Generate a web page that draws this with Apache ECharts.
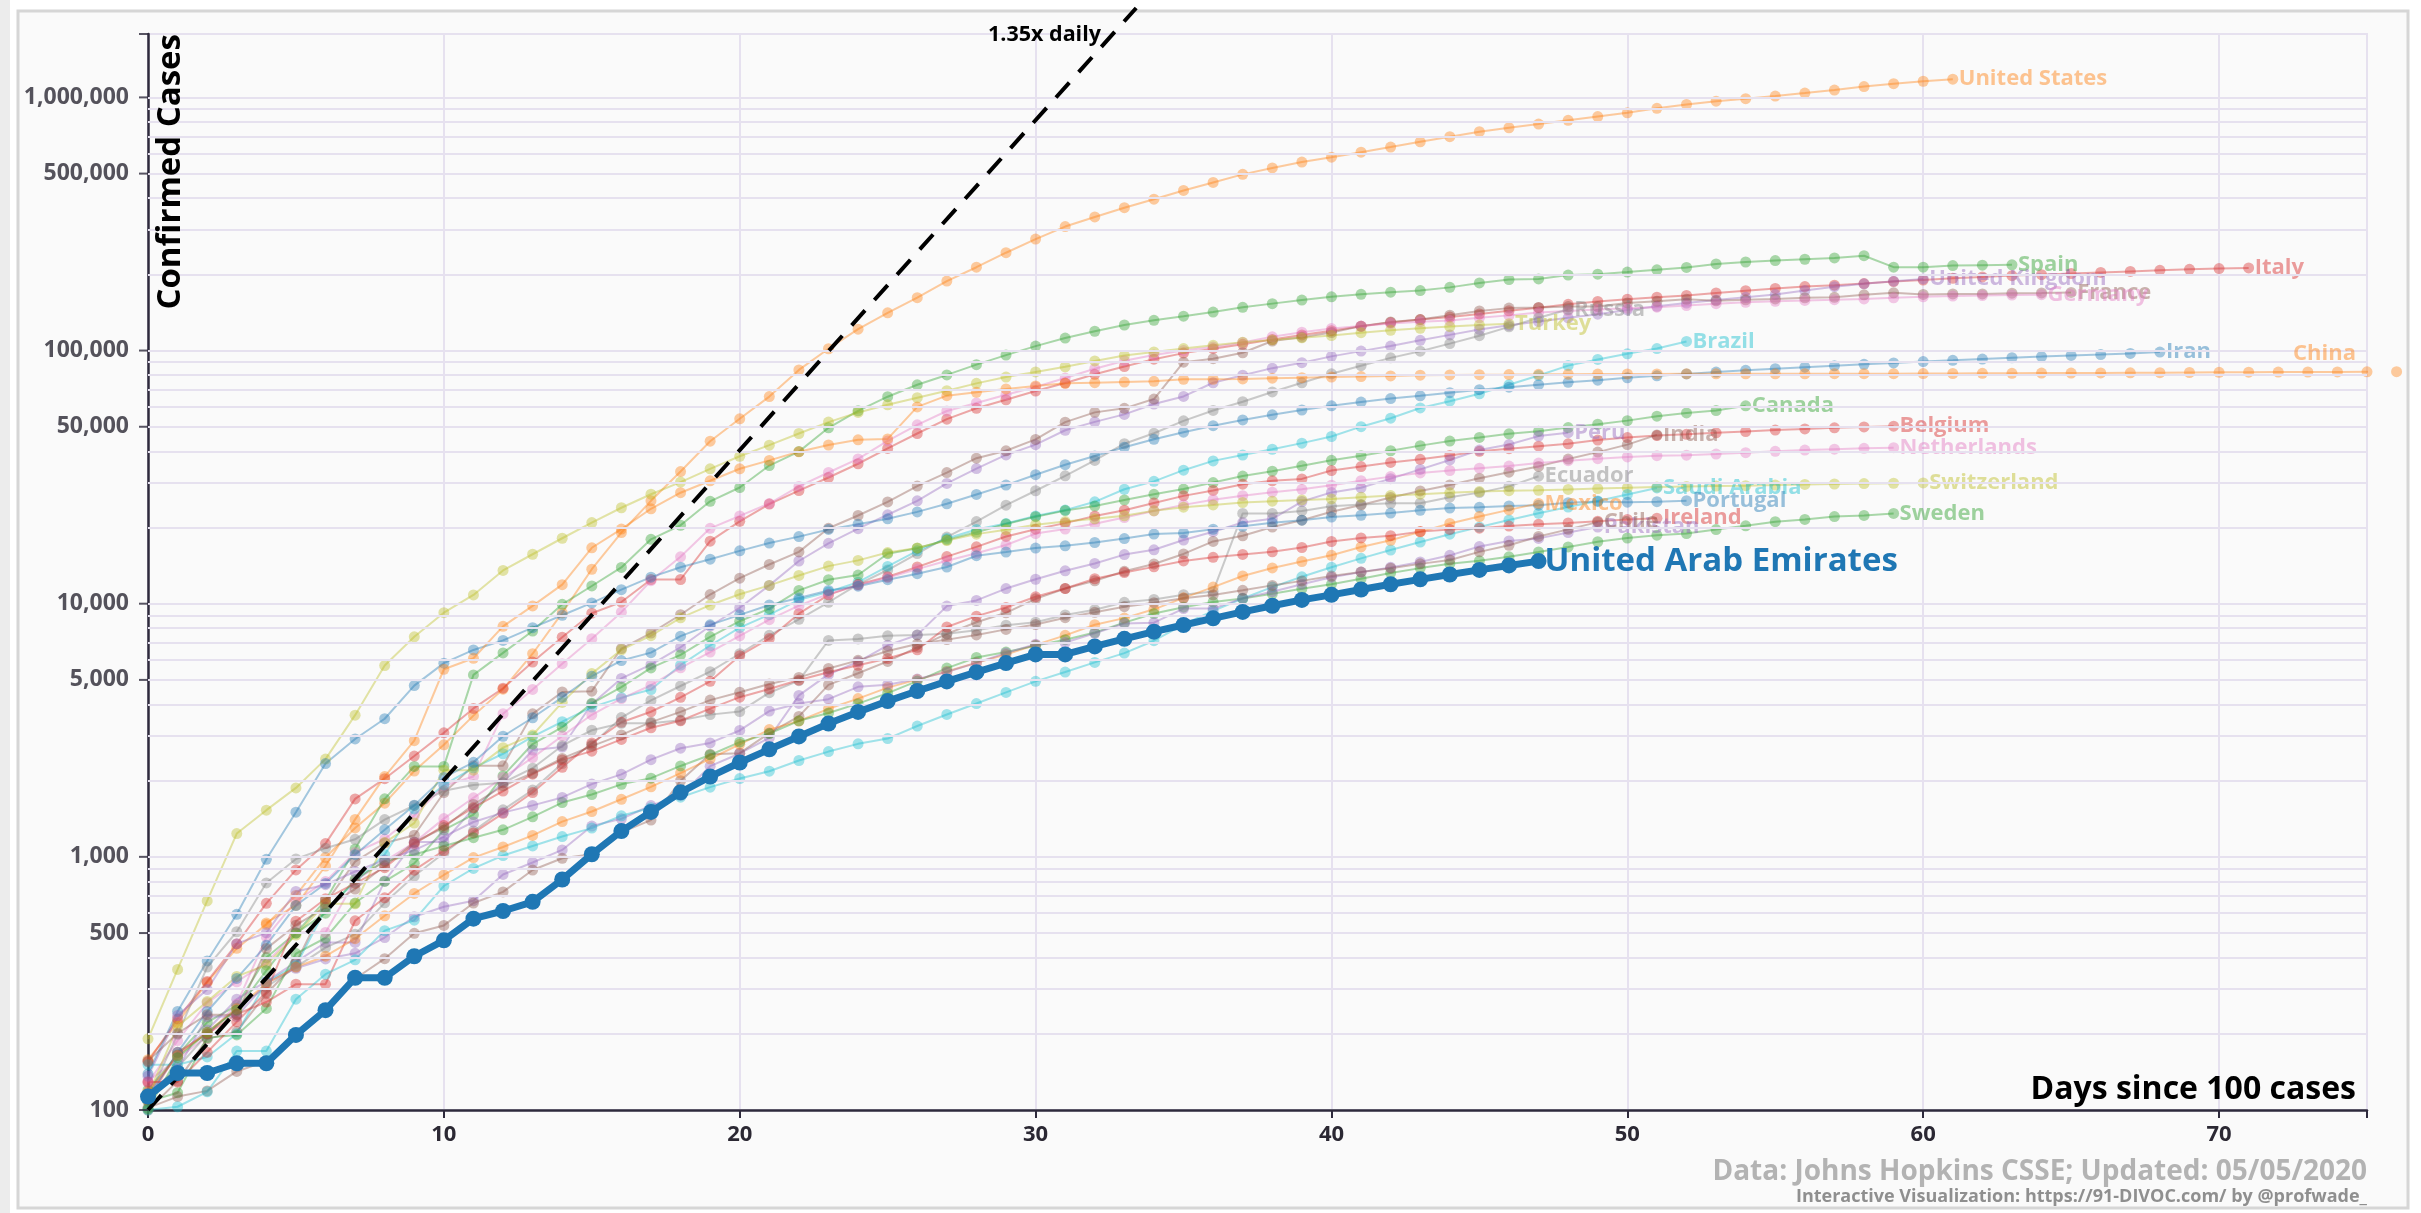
<!DOCTYPE html>
<html><head><meta charset="utf-8">
<script src="https://cdn.jsdelivr.net/npm/echarts@6/dist/echarts.min.js"></script>
<style>html,body{margin:0;padding:0;background:#fff}#c{width:2421px;height:1213px}</style>
</head><body><div id="c"></div>
<script>
// ---------- DATA (confirmed cases, day 0 = first day with >=100 cases) ----------
const US = [158,221,319,435,541,704,994,1301,1630,2183,2770,3613,4596,6344,9197,13680,19101,25493,33276,43847,53740,65778,83836,101657,121478,140886,161807,188172,213372,243453,275586,308850,337072,366667,396223,429052,461437,496535,526396,555313,580619,607670,636350,667592,699706,732197,758809,784326,811865,840351,869170,905358,938154,965785,988197,1012582,1039909,1069424,1103461,1132539,1158040,1180375];
const SPAIN = [120,165,222,259,400,500,673,1073,1695,2277,2277,5232,6391,7798,9942,11748,13910,17963,20410,25374,28768,35136,39885,49515,57786,65719,73235,80110,87956,95923,104118,112065,119199,126168,131646,136675,141942,148220,153222,158273,163027,166831,170099,172541,177644,184948,190839,191726,198674,200210,204178,208389,213024,219764,223759,226629,229422,232128,236899,213435,213435,216582,217466,218011];
const ITALY = [155,229,322,453,655,888,1128,1694,2036,2502,3089,3858,4636,5883,7375,9172,10149,12462,12462,17660,21157,24747,27980,31506,35713,41035,47021,53578,59138,63927,69176,74386,80589,86498,92472,97689,101739,105792,110574,115242,119827,124632,128948,132547,135586,139422,143626,147577,152271,156363,159516,162488,165155,168941,172434,175925,178972,181228,183957,187327,189973,192994,195351,197675,199414,201505,203591,205463,207428,209328,210717,211938];
const UK = [116,164,207,274,322,384,459,459,802,1144,1145,1551,1960,2642,2716,4014,5067,5745,6726,8164,9640,11812,14745,17312,19780,22453,25481,29865,34173,38689,42477,48436,52279,55949,61474,65872,74605,79874,85206,89570,94845,99483,104145,109769,115314,121172,125856,130172,134638,139246,144640,149569,154037,158348,162350,166441,172481,178685,183500,187842,191832];
const FRANCE = [100,130,191,204,288,380,656,957,1134,1217,1792,2289,2289,3672,4480,4513,6650,7652,9043,10871,12612,14282,16018,19856,22304,25233,29155,32964,37575,40174,44550,52128,56989,59105,64338,89953,92839,98010,109069,112950,117749,124869,129654,132591,137875,143303,147091,147969,149232,149149,154188,156480,159297,157125,158636,159952,161644,162220,165963,169053,166543,167299,167305,168518,168925,169583];
const GERMANY = [130,159,196,262,482,670,799,1040,1176,1457,1908,2078,3675,4585,5795,7272,9257,12327,15320,19848,22213,24873,29056,32986,37323,43938,50871,57695,62095,66885,71808,77872,84794,91159,96092,100123,103374,107663,113296,118181,122171,124908,127854,130072,131359,134753,137698,141397,143342,145184,147065,148291,150648,153129,154999,156513,157770,158758,159912,161539,163009,164077,164967,165664,166152];
const RUSSIA = [114,147,199,253,306,367,438,495,658,840,1036,1264,1534,1836,2337,2777,3548,4149,4731,5389,6343,7497,8672,10131,11917,13584,15770,18328,21102,24490,27938,32008,36793,42853,47121,52763,57999,62773,68622,74588,80949,87147,93558,99399,106498,114431,124054,134686,145268];
const TURKEY = [191,359,670,1236,1529,1872,2433,3629,5698,7402,9217,10827,13531,15679,18135,20921,23934,27069,30217,34109,38226,42282,47029,52167,56956,61049,65111,69392,74193,78546,82329,86306,90980,95591,98674,101790,104912,107773,110130,112261,114653,117589,120204,122392,124375,126045,127659];
const BRAZIL = [151,151,162,200,321,372,621,793,1021,1546,1924,2247,2554,2985,3417,3904,4256,4579,5717,6836,8044,9056,10360,11130,12161,14034,16170,18092,19638,20727,22192,23430,25262,28320,30425,33682,36658,38654,40743,43079,45757,50036,54043,59324,63100,67446,73235,79685,87187,92202,97100,101826,108620];
const IRAN = [139,245,388,593,978,1501,2336,2922,3513,4747,5823,6566,7161,8042,9000,10075,11364,12729,13938,14991,16169,17361,18407,19644,20610,21638,23049,24811,27017,29406,32332,35408,38309,41495,44605,47593,50468,53183,55743,58226,60500,62589,64586,66220,68192,70029,71686,73303,74877,76389,77995,79494,80868,82211,83505,84802,85996,87026,88194,89328,90481,91472,92584,93657,94640,95646,96448,97424,98647];
const CHINA = [548,643,920,1406,2075,2877,5509,6087,8141,9802,11891,16630,19716,23707,27440,30587,34110,36814,39829,42354,44386,44759,59895,66358,68413,70513,72434,74211,74619,75077,75550,77001,77022,77241,77754,78166,78600,78928,79356,79932,80136,80261,80386,80537,80690,80770,80823,80860,80887,80921,80932,80945,80977,81003,81033,81058,81102,81156,81250,81305,81435,81498,81591,81661,81782,81897,81999,82122,82198,82279,82361,82432,82511];
const CANADA = [108,117,193,198,252,415,478,657,800,943,1277,1469,2088,2790,3251,4042,4682,5576,6280,7398,8527,9560,11284,12437,12978,15756,16563,17872,19141,20654,22059,23316,24298,25680,27035,28379,30106,31927,33383,35056,36857,38422,40190,42110,43888,45354,46895,48033,49616,51150,52865,55061,56714,57926,60504];
const BELGIUM = [109,169,200,239,267,314,314,559,689,886,1058,1243,1486,1795,2257,2815,3401,3743,4269,4937,6235,7284,9134,10836,11899,12775,13964,15348,16770,18431,19691,20814,22194,23403,24983,26667,28018,29647,30589,31119,33573,34809,36138,37183,38496,39983,40956,41889,42797,44293,45325,46134,46687,47334,47859,48519,49032,49517,49906,50267];
const PERU = [117,145,234,234,318,363,395,416,480,580,635,671,852,950,1065,1323,1414,1595,1746,2281,2561,2954,4342,5256,5897,6848,7519,9784,10303,11475,12491,13489,14420,15628,16325,17837,19250,20914,21648,25331,27517,28699,31190,33931,36976,40459,42534,45928,47372];
const INDIA = [102,113,119,142,156,194,244,330,396,499,536,657,727,887,987,1024,1251,1397,1998,2543,2567,3082,3588,4778,5311,5916,6725,7598,8446,9205,10453,11487,12322,13430,14352,15722,17615,18539,20080,21370,23077,24530,26283,27890,29451,31324,33062,34863,37257,39699,42505,46437];
const NETHERLANDS = [128,188,265,321,382,503,503,806,962,1138,1416,1711,2058,2467,3003,3640,4216,4764,5580,6438,7468,8647,9819,10930,11817,12667,13696,14788,15821,17053,18926,19709,20682,21903,23249,24571,25746,26710,27580,28316,29383,30619,31766,32838,33588,34317,34961,35921,36727,37384,37995,38416,38612,38998,39512,39989,40434,40770,41087,41319];
const ECUADOR = [111,199,367,506,789,981,1082,1173,1403,1595,1823,1924,1962,2240,2748,3163,3368,3368,3465,3646,3747,4450,4965,7161,7257,7466,7529,7603,7858,8225,8450,9022,9468,10128,10398,10850,11183,22719,22719,23240,24258,24675,24934,24934,26336,27464,29071,31881];
const SWITZERLAND = [114,214,268,337,374,491,652,652,1139,1359,2200,2200,2700,3028,4075,5294,6575,7474,8795,9877,10897,11811,12928,14076,14829,15922,16605,17768,18827,19606,20505,21100,21657,22253,23280,24051,24551,25107,25415,25688,25936,26336,26732,27078,27404,27740,27944,28063,28268,28496,28677,28894,29061,29164,29264,29407,29586,29705,29817,29905,29981];
const SAUDI = [100,103,118,171,171,274,344,392,511,562,767,900,1012,1104,1203,1299,1453,1563,1720,1885,2039,2179,2402,2605,2795,2932,3287,3651,4033,4462,4934,5369,5862,6380,7142,8274,9362,10484,11631,12772,13930,15102,16299,17522,18811,20077,21402,22753,24097,25459,27011,28656];
const PORTUGAL = [112,169,245,331,448,642,785,1020,1280,1600,2060,2362,2995,3544,4268,5170,5962,6408,7443,8251,9034,9886,10524,11278,11730,12442,13141,13956,15472,15987,16585,16934,17448,18091,18841,19022,19685,20206,20863,21379,21982,22353,22797,23392,23864,24027,24322,24505,25045,25351,25190,25282,25524];
const MEXICO = [118,164,203,251,316,367,405,475,585,717,848,993,1094,1215,1378,1510,1688,1890,2143,2439,2785,3181,3441,3844,4219,4661,5014,5399,5847,6297,6875,7497,8261,8772,9501,10544,11633,12872,13842,14677,15529,16752,17799,19224,20739,22088,23471,24905];
const SWEDEN = [101,161,203,248,355,500,599,814,961,1022,1103,1190,1279,1439,1639,1763,1934,2046,2286,2526,2840,3069,3447,3700,4028,4435,4947,5568,6131,6443,6830,7206,7693,8419,9141,9685,10151,10483,10948,11445,11927,12540,13216,13822,14385,14777,15322,16004,16755,17567,18177,18640,18926,19621,20302,21092,21520,22082,22317,22721];
const IRELAND = [129,129,169,223,292,557,683,785,906,1125,1329,1564,1819,2121,2415,2615,2910,3235,3447,3849,4273,4604,4994,5364,5709,6074,6574,8089,8928,9655,10647,11479,12547,13271,13980,14758,15251,15652,16040,16671,17607,18184,18561,19262,19648,19877,20253,20612,20833,21176,21506,21772];
const PAKISTAN = [136,236,299,454,501,730,776,875,972,1063,1201,1373,1495,1597,1717,1938,2118,2421,2686,2818,3157,3766,4035,4196,4695,4788,5038,5374,5837,6383,6919,7025,7638,8348,8418,9565,9565,10513,11155,11940,12723,13328,13915,14612,15525,16817,17699,18114,19103,20084];
const CHILE = [156,201,238,238,434,537,632,746,922,1142,1306,1610,1909,2139,2449,2738,3031,3404,3737,4161,4471,4815,5116,5546,5972,6501,6927,7213,7525,7917,8273,8807,9252,9730,10088,10507,10832,11296,11812,12306,12858,13331,13813,14365,14885,16023,17008,18435,19663,21000];
const UAE = [113,140,140,153,153,198,248,333,333,405,468,570,611,664,814,1024,1264,1505,1799,2076,2359,2659,2990,3360,3736,4123,4521,4933,5365,5825,6302,6302,6781,7265,7755,8238,8756,9281,9813,10349,10839,11380,11929,12481,13038,13599,14163,14730];

const X_TICKS = [0, 10, 20, 30, 40, 50, 60, 70];
const Y_TICKS = [100, 500, 1000, 5000, 10000, 50000, 100000, 500000, 1000000];
const GUIDE_RATE = 1.35;          // "1.35x daily" reference line from 100 cases
const GUIDE_DAYS = [0, 33.4];

const countries = [
  {name:'United States', start:0, data:US, color:'#ff7f0e'},
  {name:'Spain', start:0, data:SPAIN, color:'#2ca02c'},
  {name:'Italy', start:0, data:ITALY, color:'#d62728'},
  {name:'United Kingdom', start:0, data:UK, color:'#9467bd'},
  {name:'France', start:0, data:FRANCE, color:'#8c564b'},
  {name:'Germany', start:0, data:GERMANY, color:'#e377c2'},
  {name:'Russia', start:0, data:RUSSIA, color:'#7f7f7f'},
  {name:'Turkey', start:0, data:TURKEY, color:'#bcbd22'},
  {name:'Brazil', start:0, data:BRAZIL, color:'#17becf'},
  {name:'Iran', start:0, data:IRAN, color:'#1f77b4'},
  {name:'China', start:4, data:CHINA, color:'#ff7f0e', china:true},
  {name:'Canada', start:0, data:CANADA, color:'#2ca02c'},
  {name:'Belgium', start:0, data:BELGIUM, color:'#d62728'},
  {name:'Peru', start:0, data:PERU, color:'#9467bd'},
  {name:'India', start:0, data:INDIA, color:'#8c564b'},
  {name:'Netherlands', start:0, data:NETHERLANDS, color:'#e377c2'},
  {name:'Ecuador', start:0, data:ECUADOR, color:'#7f7f7f'},
  {name:'Switzerland', start:0, data:SWITZERLAND, color:'#bcbd22'},
  {name:'Saudi Arabia', start:0, data:SAUDI, color:'#17becf'},
  {name:'Portugal', start:0, data:PORTUGAL, color:'#1f77b4'},
  {name:'Mexico', start:0, data:MEXICO, color:'#ff7f0e'},
  {name:'Sweden', start:0, data:SWEDEN, color:'#2ca02c'},
  {name:'Ireland', start:0, data:IRELAND, color:'#d62728'},
  {name:'Pakistan', start:0, data:PAKISTAN, color:'#9467bd'},
  {name:'Chile', start:0, data:CHILE, color:'#8c564b'},
  {name:'United Arab Emirates', start:0, data:UAE, color:'#1f77b4', highlight:true}
];

// ---------- STYLE ----------
const FONT = '"Open Sans", "Noto Sans", sans-serif';
const GRID_C = '#e6e1ef';
const AXIS_C = '#2e2a3c';
const Y_MAX = 1780000;
function rgba(hex, a){ const n = parseInt(hex.slice(1),16); return 'rgba(' + (n>>16) + ',' + ((n>>8)&255) + ',' + (n&255) + ',' + a + ')'; }

const gridVals = [];
for (let p = 100; p <= 100000; p *= 10) for (let k = 2; k <= 10; k++) gridVals.push(k*p);

const series = [];
series.push({
  type:'line', data:[[0,100]], symbol:'none', lineStyle:{opacity:0}, silent:true, z:1,
  markLine:{silent:true, symbol:['none','none'], label:{show:false}, animation:false,
    lineStyle:{color:GRID_C, width:2, type:'solid'}, data: gridVals.map(v => ({yAxis:v}))}
});

countries.forEach(c => {
  const hl = !!c.highlight;
  const a = hl ? 1 : 0.4;
  const s = {
    type:'line', name:c.name, silent:true, animation:false,
    clip: !c.china,
    data: c.data.map((v,i) => [c.start + i, v]),
    symbol:'circle', symbolSize: hl ? 16 : 11,
    lineStyle:{color: rgba(c.color, a), width: hl ? 7 : 2},
    itemStyle:{color: rgba(c.color, a)},
    z: hl ? 6 : 2,
    endLabel:{show: !c.china, formatter: c.name, color: rgba(c.color, hl ? 1 : 0.45),
      fontSize: hl ? 33 : 22, fontWeight:'bold', fontFamily:FONT, distance: 6}
  };
  if (c.china) {
    s.markPoint = {symbol:'circle', symbolSize:0, silent:true, animation:false,
      data:[{coord:[72.5, 97000]}],
      label:{show:true, position:'right', distance:0, formatter:'China', color: rgba(c.color, 0.45),
        fontSize:22, fontWeight:'bold', fontFamily:FONT}};
  }
  series.push(s);
});

series.push({
  type:'line', silent:true, clip:false, symbol:'none', z:5,
  data: GUIDE_DAYS.map(d => [d, 100*Math.pow(GUIDE_RATE, d)]),
  lineStyle:{color:'#000', width:4, type:[20,14]}
});

series.push({
  type:'scatter', silent:true, clip:false, z:7,
  data: Y_TICKS.concat([Y_MAX]).map(v => [0, v]),
  symbol:'rect', symbolSize:[9,2], symbolOffset:[-4.5,0], itemStyle:{color:AXIS_C},
  label:{show:true, position:'left', distance:10,
    formatter: p => (Y_TICKS.indexOf(p.value[1]) >= 0 ? p.value[1].toLocaleString('en-US') : ''),
    color:'#2b2833', fontSize:23, fontWeight:'bold', fontFamily:FONT}
});

const chart = echarts.init(document.getElementById('c'), null, {renderer:'canvas'});
chart.setOption({
  animation:false,
  backgroundColor:'#ffffff',
  textStyle:{fontFamily:FONT},
  grid:{left:148, right:54, top:34, bottom:103, show:true, borderColor:GRID_C, borderWidth:2, backgroundColor:'transparent'},
  xAxis:{type:'value', min:0, max:75, interval:10,
    axisLine:{lineStyle:{color:AXIS_C, width:2.5}},
    axisTick:{show:true, length:8, lineStyle:{color:AXIS_C, width:2}},
    axisLabel:{margin:14, color:'#2b2833', fontSize:22, fontWeight:'bold', fontFamily:FONT,
      formatter: v => (X_TICKS.indexOf(v) >= 0 ? String(v) : '')},
    splitLine:{show:true, lineStyle:{color:GRID_C, width:2}}},
  yAxis:{type:'log', logBase:10, min:100, max:Y_MAX,
    axisLine:{show:true, lineStyle:{color:AXIS_C, width:2.5}},
    axisTick:{show:false}, axisLabel:{show:false}, splitLine:{show:false}},
  graphic:[
    {type:'rect', z:-10, silent:true, shape:{x:0, y:0, width:10, height:1213}, style:{fill:'#ececec'}},
    {type:'rect', z:-10, silent:true, shape:{x:18, y:11, width:2390, height:1197}, style:{fill:'#fafafa', stroke:'#d6d6d6', lineWidth:3}},
    {type:'text', z:10, silent:true, x:171, y:34, rotation:Math.PI/2,
      style:{text:'Confirmed Cases', align:'right', verticalAlign:'middle', fill:'#000', font:'bold 33px ' + FONT}},
    {type:'text', z:10, silent:true, x:2356, y:1090,
      style:{text:'Days since 100 cases', align:'right', verticalAlign:'middle', fill:'#000', font:'bold 32px ' + FONT}},
    {type:'text', z:10, silent:true, x:988, y:35,
      style:{text:'1.35x daily', align:'left', verticalAlign:'middle', fill:'#000', font:'bold 21.5px ' + FONT}},
    {type:'text', z:10, silent:true, x:2367, y:1172,
      style:{text:'Data: Johns Hopkins CSSE; Updated: 05/05/2020', align:'right', verticalAlign:'middle', fill:'#b3b3b3', font:'bold 28px ' + FONT}},
    {type:'text', z:10, silent:true, x:2367, y:1197,
      style:{text:'Interactive Visualization: https://91-DIVOC.com/ by @profwade_', align:'right', verticalAlign:'middle', fill:'#8f8f8f', font:'bold 18px ' + FONT}}
  ],
  series: series
});
</script>
</body></html>
